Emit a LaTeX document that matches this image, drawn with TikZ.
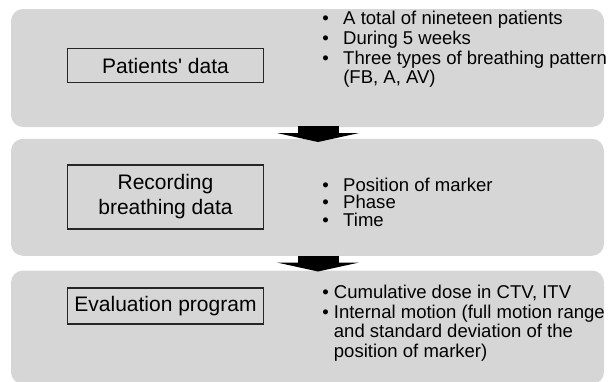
\documentclass[tikz,border=0pt]{standalone}
\usepackage{fontspec}
\setmainfont{Liberation Sans}
\usetikzlibrary{positioning}
\usetikzlibrary{arrows.meta}
\definecolor{panelgray}{RGB}{214,214,214}
\newcommand{\bl}{\makebox[15.75pt][l]{\textbullet}}
\newcommand{\sbl}{\textbullet{} }

\begin{document}
\begin{tikzpicture}[x=0.75pt,y=-0.75pt,
    panel/.style={fill=panelgray, rounded corners=9pt, inner sep=0pt, minimum width=444.75pt},
    titlebox/.style={draw=black!85, line width=0.8pt, fill=panelgray, minimum width=147pt,
        align=center, font=\fontsize{15.75}{18.75}\selectfont},
    bullets/.style={anchor=north west, inner sep=0pt, align=left},
    bigarrow/.style={line width=30.75pt, -{Triangle[width=61.5pt,length=6.75pt]}}]
    \useasboundingbox (0,0) rectangle (608,382);

    % three grey panels
    \node[panel, minimum height=88.5pt] (p1) at (307.5,68) {};
    \node[panel, minimum height=87.75pt] (p2) at (307.5,197.3) {};
    \node[panel, minimum height=85.1pt] (p3) at (307.5,327.3) {};

    % titles
    \node[titlebox, minimum height=25.9pt] (patients) at (165.5,65.5) {Patients\textquotesingle{} data};
    \node[titlebox, minimum height=48pt] (recording) at (165.5,197) {Recording\\breathing data};
    \node[titlebox, minimum height=27pt] (evaluation) at (165.5,306) {Evaluation program};

    % bullet lists
    \node[bullets, font=\fontsize{13.9}{14.8}\selectfont] (info) at (322,11)
        {\bl A total of nineteen patients\\
         \bl During 5 weeks\\
         \bl Three types of breathing pattern\\
         \hspace*{15.75pt}(FB, A, AV)};
    \node[bullets, font=\fontsize{13.9}{13.1}\selectfont] (record) at (322,177.7)
        {\bl Position of marker\\
         \bl Phase\\
         \bl Time};
    \node[bullets, font=\fontsize{13.9}{14.6}\selectfont] (output) at (322,285)
        {\sbl Cumulative dose in CTV, ITV\\
         \sbl Internal motion (full motion range\\
         \phantom{\sbl}and standard deviation of the\\
         \phantom{\sbl}position of marker)};

    % block arrows between panels
    \coordinate (a1s) at (318,126);
    \coordinate (a1e) at (318,142);
    \coordinate (a2s) at (318,255.5);
    \coordinate (a2e) at (318,271.5);
    \draw[bigarrow] (a1s) -- (a1e);
    \draw[bigarrow] (a2s) -- (a2e);
\end{tikzpicture}
\end{document}
